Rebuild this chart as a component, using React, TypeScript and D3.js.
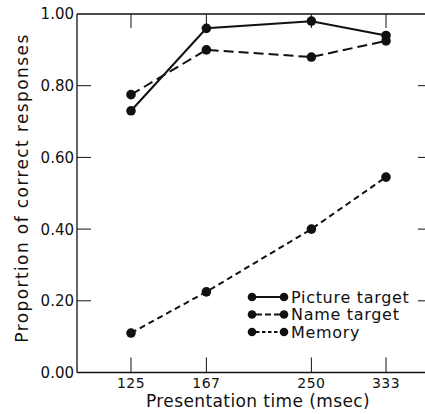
import React, { useEffect, useRef } from 'react';
import * as d3 from 'd3';

const times = [125, 167, 250, 333];
const pictureTarget = [0.73, 0.96, 0.98, 0.94];
const nameTarget = [0.775, 0.9, 0.88, 0.925];
const memory = [0.11, 0.225, 0.4, 0.545];
const yTicks = [0, 0.2, 0.4, 0.6, 0.8, 1.0];

const series = [
  { label: 'Picture target', values: pictureTarget, dash: null, legendDash: null },
  { label: 'Name target', values: nameTarget, dash: '10,5', legendDash: '6,3' },
  { label: 'Memory', values: memory, dash: '6,4', legendDash: '3.5,2.5' },
];

const App = () => {
  const svgRef = useRef(null);
  const width = 425;
  const height = 414;

  useEffect(() => {
    const svg = d3.select(svgRef.current);
    svg.selectAll('*').remove();

    const ink = '#111';
    const font = '"DejaVu Sans", sans-serif';

    // Scales (the x axis is logarithmic)
    const x = d3.scaleLog().domain([125, 333]).range([131, 386]);
    const y = d3.scaleLinear().domain([0, 1]).range([372.5, 14]);
    const left = 77;
    const right = 432;

    svg.append('rect').attr('width', width).attr('height', height).attr('fill', '#fff');

    const g = svg.append('g');

    // Frame
    g.append('line')
      .attr('x1', left).attr('x2', left)
      .attr('y1', y(1)).attr('y2', y(0))
      .attr('stroke', ink).attr('stroke-width', 1.3);
    g.append('line')
      .attr('x1', left).attr('x2', right)
      .attr('y1', y(0)).attr('y2', y(0))
      .attr('stroke', ink).attr('stroke-width', 1.3);
    g.append('line')
      .attr('x1', left).attr('x2', right)
      .attr('y1', y(1)).attr('y2', y(1))
      .attr('stroke', ink).attr('stroke-width', 1.3);

    // X ticks (bottom and top, inward)
    times.forEach(t => {
      g.append('line')
        .attr('x1', x(t)).attr('x2', x(t))
        .attr('y1', y(0)).attr('y2', y(0) - 15)
        .attr('stroke', ink).attr('stroke-width', 1);
      g.append('line')
        .attr('x1', x(t)).attr('x2', x(t))
        .attr('y1', y(1)).attr('y2', y(1) + 14)
        .attr('stroke', ink).attr('stroke-width', 1);
      g.append('text')
        .attr('x', x(t))
        .attr('y', 388)
        .attr('text-anchor', 'middle')
        .style('font-family', font)
        .style('font-size', '14px')
        .style('letter-spacing', '0.5px')
        .attr('fill', ink)
        .text(String(t));
    });

    // Y ticks (left and right, inward)
    yTicks.forEach(v => {
      if (v > 0 && v < 1) {
        g.append('line')
          .attr('x1', left).attr('x2', left + 14)
          .attr('y1', y(v)).attr('y2', y(v))
          .attr('stroke', ink).attr('stroke-width', 1);
        g.append('line')
          .attr('x1', right - 14).attr('x2', right)
          .attr('y1', y(v)).attr('y2', y(v))
          .attr('stroke', ink).attr('stroke-width', 1);
      }
      g.append('text')
        .attr('x', left - 3)
        .attr('y', y(v))
        .attr('dy', '0.36em')
        .attr('text-anchor', 'end')
        .style('font-family', font)
        .style('font-size', '15px')
        .attr('fill', ink)
        .text(v.toFixed(2));
    });

    // Lines and markers
    series.forEach(s => {
      const pts = s.values.map((v, i) => [x(times[i]), y(v)]);
      g.append('path')
        .attr('d', d3.line()(pts))
        .attr('fill', 'none')
        .attr('stroke', ink)
        .attr('stroke-width', 2)
        .attr('stroke-dasharray', s.dash);
      g.selectAll(null)
        .data(pts)
        .enter()
        .append('circle')
        .attr('cx', d => d[0])
        .attr('cy', d => d[1])
        .attr('r', 4.8)
        .attr('fill', ink);
    });

    // Axis labels
    g.append('text')
      .attr('x', 258)
      .attr('y', 407)
      .attr('text-anchor', 'middle')
      .style('font-family', font)
      .style('font-size', '17px')
      .style('letter-spacing', '0.4px')
      .attr('fill', ink)
      .text('Presentation time (msec)');

    g.append('text')
      .attr('transform', 'translate(28,188) rotate(-90)')
      .attr('text-anchor', 'middle')
      .style('font-family', font)
      .style('font-size', '17px')
      .style('letter-spacing', '1.4px')
      .attr('fill', ink)
      .text('Proportion of correct responses');

    // Legend
    const legend = g.append('g').attr('transform', 'translate(252, 297)');
    const rowY = [0, 17.5, 35];
    series.forEach((s, i) => {
      const row = legend.append('g').attr('transform', `translate(0, ${rowY[i]})`);
      row.append('line')
        .attr('x1', 4).attr('x2', 28)
        .attr('y1', 0).attr('y2', 0)
        .attr('stroke', ink)
        .attr('stroke-width', 2)
        .attr('stroke-dasharray', s.legendDash);
      row.append('circle').attr('cx', 0).attr('cy', 0).attr('r', 4.3).attr('fill', ink);
      row.append('circle').attr('cx', 32).attr('cy', 0).attr('r', 4.3).attr('fill', ink);
      row.append('text')
        .attr('x', 39)
        .attr('y', 0)
        .attr('dy', '0.36em')
        .style('font-family', font)
        .style('font-size', '16px')
        .style('letter-spacing', '0.7px')
        .attr('fill', ink)
        .text(s.label);
    });
  }, []);

  return (
    <svg
      ref={svgRef}
      width={width}
      height={height}
      style={{ position: 'absolute', left: 0, top: 0 }}
    />
  );
};

export default App;
